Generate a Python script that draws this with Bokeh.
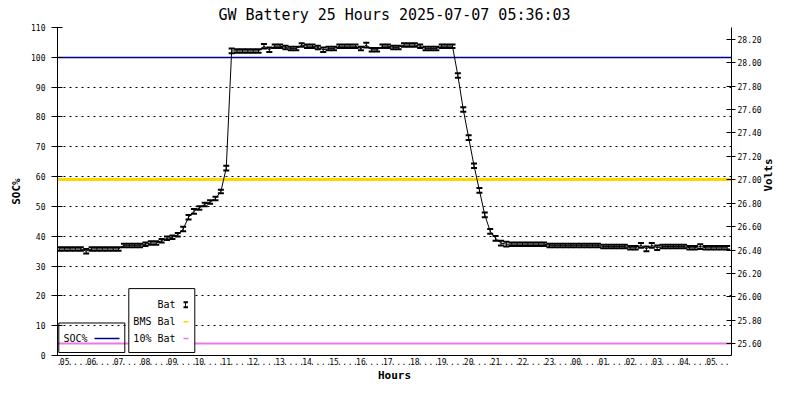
import math
from bokeh.plotting import figure
from bokeh.models import (Range1d, LinearAxis, FixedTicker, PrintfTickFormatter,
                          ColumnDataSource, Whisker, TeeHead)
from bokeh.core.properties import value
from bokeh.embed import file_html
from bokeh.resources import INLINE

TITLE = "GW Battery 25 Hours 2025-07-07 05:36:03"

# hour labels, one sample every 12 minutes starting 04:48
HOUR_LABELS = ["05", "06", "07", "08", "09", "10", "11", "12", "13", "14", "15", "16",
               "17", "18", "19", "20", "21", "22", "23", "00", "01", "02", "03", "04", "05"]

BAT_VOLTS = [
    26.41, 26.41, 26.41, 26.41, 26.41, 26.39, 26.41, 26.41, 26.41, 26.41,
    26.41, 26.41, 26.44, 26.44, 26.44, 26.44, 26.45, 26.46, 26.46, 26.48,
    26.50, 26.51, 26.53, 26.58, 26.68, 26.73, 26.76, 26.79, 26.81, 26.84,
    26.90, 27.10, 28.10, 28.10, 28.10, 28.10, 28.10, 28.10, 28.14, 28.11,
    28.14, 28.14, 28.13, 28.12, 28.12, 28.15, 28.14, 28.14, 28.13, 28.11,
    28.12, 28.12, 28.14, 28.14, 28.14, 28.14, 28.12, 28.15, 28.11, 28.11,
    28.14, 28.14, 28.13, 28.13, 28.15, 28.15, 28.15, 28.14, 28.12, 28.12,
    28.12, 28.14, 28.14, 28.14, 27.89, 27.60, 27.36, 27.12, 26.91, 26.70,
    26.56, 26.50, 26.46, 26.45, 26.45, 26.45, 26.45, 26.45, 26.45, 26.45,
    26.45, 26.44, 26.44, 26.44, 26.44, 26.44, 26.44, 26.44, 26.44, 26.44,
    26.44, 26.43, 26.43, 26.43, 26.43, 26.43, 26.42, 26.42, 26.44, 26.41,
    26.44, 26.42, 26.43, 26.43, 26.43, 26.43, 26.43, 26.42, 26.42, 26.43,
    26.42, 26.42, 26.42, 26.42, 26.42,
]

BAT_ERR = [
    0.015, 0.015, 0.015, 0.015, 0.015, 0.020, 0.015, 0.015, 0.015, 0.015,
    0.015, 0.015, 0.015, 0.015, 0.015, 0.015, 0.015, 0.015, 0.015, 0.015,
    0.015, 0.015, 0.015, 0.020, 0.020, 0.020, 0.015, 0.015, 0.015, 0.015,
    0.015, 0.020, 0.020, 0.015, 0.015, 0.015, 0.015, 0.015, 0.020, 0.020,
    0.015, 0.015, 0.015, 0.015, 0.015, 0.015, 0.015, 0.015, 0.015, 0.020,
    0.015, 0.015, 0.015, 0.015, 0.015, 0.015, 0.015, 0.020, 0.015, 0.015,
    0.015, 0.015, 0.015, 0.015, 0.015, 0.015, 0.015, 0.015, 0.015, 0.015,
    0.015, 0.015, 0.015, 0.015, 0.020, 0.020, 0.020, 0.020, 0.020, 0.020,
    0.020, 0.020, 0.020, 0.020, 0.015, 0.015, 0.015, 0.015, 0.015, 0.015,
    0.015, 0.015, 0.015, 0.015, 0.015, 0.015, 0.015, 0.015, 0.015, 0.015,
    0.015, 0.015, 0.015, 0.015, 0.015, 0.015, 0.015, 0.015, 0.020, 0.020,
    0.020, 0.020, 0.015, 0.015, 0.015, 0.015, 0.015, 0.015, 0.015, 0.020,
    0.015, 0.015, 0.015, 0.015, 0.015,
]

SOC_LEVEL = 100      # SOC% (left axis)
BMS_BAL = 27.00      # BMS balance voltage (right axis)
LOW_BAT = 25.60      # 10% battery voltage (right axis)

SOC_TICKS = [0, 10, 20, 30, 40, 50, 60, 70, 80, 90, 100, 110]
VOLT_TICKS = [25.6, 25.8, 26.0, 26.2, 26.4, 26.6, 26.8, 27.0, 27.2, 27.4, 27.6, 27.8, 28.0, 28.2]

FONT = "DejaVu Sans Mono"
NAVY = "#000090"
GOLD = "#ffd700"
PINK = "#e87ae8"

n = len(BAT_VOLTS)
idx = list(range(n))
tick_labels = {}
for i in idx:
    if (i - 1) % 5 == 0:
        tick_labels[i] = HOUR_LABELS[(i - 1) // 5]
    else:
        tick_labels[i] = "."

W, H = 784, 384
BL, BR, BT, BB = 57, 53, 25, 29        # borders around the plotting frame
FW, FH = W - BL - BR, H - BT - BB

XS, XE = -0.33, 124.8
VS, VE = 25.5, 28.3
p = figure(width=W, height=H, output_backend="svg", toolbar_location=None,
           x_range=Range1d(XS, XE), y_range=Range1d(0, 110), title=TITLE,
           min_border_left=BL, min_border_right=BR, min_border_top=BT, min_border_bottom=BB)
p.extra_y_ranges = {"volts": Range1d(VS, VE)}
p.outline_line_color = None
p.background_fill_color = "white"
p.border_fill_color = "white"

p.title.align = "center"
p.title.text_font = FONT
p.title.text_font_size = "15px"
p.title.text_font_style = "normal"
p.title.text_color = "black"
p.title.standoff = 7
p.title.offset = 0


def style_axis(ax):
    ax.axis_label_text_font = FONT
    ax.axis_label_text_font_size = "11px"
    ax.axis_label_text_font_style = "bold"
    ax.axis_label_text_color = "black"
    ax.major_label_text_font = FONT
    ax.major_label_text_font_size = "8px"
    ax.major_label_text_color = "black"
    ax.minor_tick_line_color = None
    ax.axis_line_color = "black"
    ax.major_tick_line_color = "black"


# left axis
ya = p.yaxis[0]
style_axis(ya)
ya.ticker = FixedTicker(ticks=SOC_TICKS)
ya.axis_label = "SOC%"
ya.axis_label_standoff = 5
ya.major_label_standoff = 6
ya.major_tick_in = 5
ya.major_tick_out = 6

# right axis, its title reads bottom-to-top
ra = LinearAxis(y_range_name="volts", ticker=FixedTicker(ticks=VOLT_TICKS),
                formatter=PrintfTickFormatter(format="%.2f"), axis_label="Volts")
style_axis(ra)
ra.axis_label_standoff = 4
ra.major_label_standoff = 2
ra.major_tick_in = 5
ra.major_tick_out = 4
try:
    ra.axis_label_orientation = math.pi / 2
except Exception:
    pass
p.add_layout(ra, "right")

# x axis
xa = p.xaxis[0]
style_axis(xa)
xa.ticker = FixedTicker(ticks=idx)
xa.major_label_overrides = tick_labels
xa.major_label_standoff = 2
xa.major_tick_in = 0
xa.major_tick_out = 0
xa.axis_label = "Hours"
xa.axis_label_standoff = 1

p.xgrid.visible = False
p.ygrid.grid_line_color = "black"
p.ygrid.grid_line_dash = "2 4"
p.ygrid.grid_line_width = 1

# reference lines
p.hspan(y=[SOC_LEVEL], line_color=NAVY, line_width=1.5)
p.hspan(y=[BMS_BAL], y_range_name="volts", line_color=GOLD, line_width=3)
p.hspan(y=[LOW_BAT], y_range_name="volts", line_color=PINK, line_width=2)

# battery voltage with error bars
src = ColumnDataSource(dict(
    x=idx, v=BAT_VOLTS,
    lower=[v - e for v, e in zip(BAT_VOLTS, BAT_ERR)],
    upper=[v + e for v, e in zip(BAT_VOLTS, BAT_ERR)],
))
p.line("x", "v", source=src, y_range_name="volts", line_color="black", line_width=1)
wh = Whisker(source=src, base="x", lower="lower", upper="upper", y_range_name="volts",
             line_color="black", line_width=1,
             upper_head=TeeHead(size=6, line_width=2, line_color="black"),
             lower_head=TeeHead(size=6, line_width=2, line_color="black"))
p.add_layout(wh)

# ---- pixel helpers (offsets from the frame's bottom-left corner) ----
PXX = FW / (XE - XS)
PXY = FH / 110.0
def X(dx):
    return XS + dx / PXX
def Y(dy):
    return dy / PXY

# ---- legend boxes (gnuplot style) ----
p.quad(left=[X(1.3)], right=[X(67.3)], top=[Y(32.7)], bottom=[Y(3)],
       fill_color=None, line_color="black", line_width=1)
p.quad(left=[X(71.3)], right=[X(137.3)], top=[Y(67.3)], bottom=[Y(3)],
       fill_color="white", line_color="black", line_width=1)

p.text(x=[X(6)], y=[Y(17)], text=["SOC%"], text_align="left", text_baseline="middle",
       text_font=value(FONT), text_font_size="10px", text_color="black")
p.segment(x0=[X(37)], y0=[Y(17)], x1=[X(62)], y1=[Y(17)], line_color=NAVY, line_width=1.5)

p.text(x=[X(118)] * 3, y=[Y(51), Y(34), Y(17)], text=["Bat", "BMS Bal", "10% Bat"],
       text_align="right", text_baseline="middle",
       text_font=value(FONT), text_font_size="10px", text_color="black")
# Bat symbol
p.segment(x0=[X(128)], y0=[Y(48.5)], x1=[X(128)], y1=[Y(53.5)], line_color="black", line_width=1)
p.segment(x0=[X(126), X(126)], y0=[Y(48.5), Y(53.5)], x1=[X(130.5), X(130.5)],
          y1=[Y(48.5), Y(53.5)], line_color="black", line_width=2)
p.segment(x0=[X(126)], y0=[Y(34)], x1=[X(131)], y1=[Y(34)], line_color=GOLD, line_width=1.5)
p.segment(x0=[X(126)], y0=[Y(17)], x1=[X(131)], y1=[Y(17)], line_color=PINK, line_width=1.5)

open("out.html", "w").write(file_html(p, INLINE))
